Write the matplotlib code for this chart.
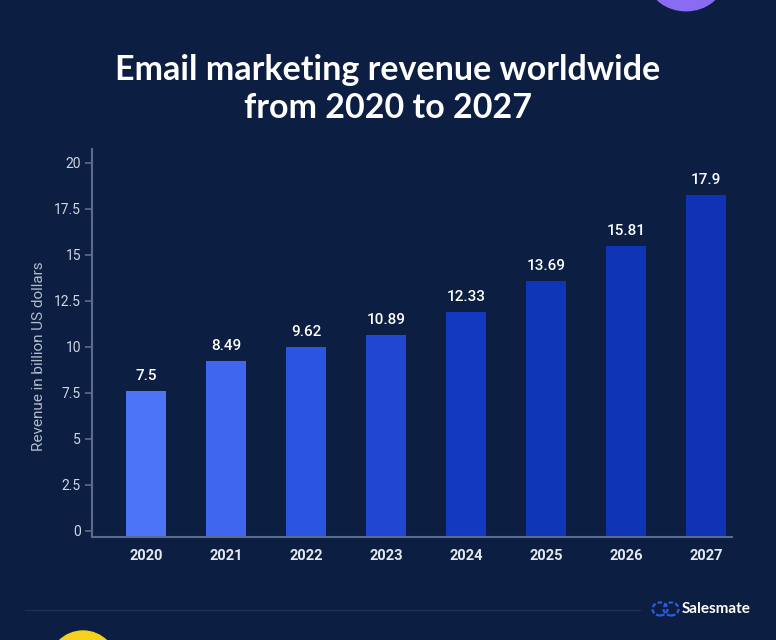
import matplotlib
matplotlib.use("Agg")
import matplotlib.pyplot as plt
from matplotlib.patches import Circle, Ellipse

years = ["2020", "2021", "2022", "2023", "2024", "2025", "2026", "2027"]
bar_heights = [7.59, 9.22, 9.98, 10.64, 11.88, 13.57, 15.47, 18.24]
value_labels = ["7.5", "8.49", "9.62", "10.89", "12.33", "13.69", "15.81", "17.9"]
yticks = [0, 2.5, 5, 7.5, 10, 12.5, 15, 17.5, 20]
ytick_labels = ["0", "2.5", "5", "7.5", "10", "12.5", "15", "17.5", "20"]
bar_colors = ["#4b75f6", "#3e66ee", "#2b55e0", "#2046d2", "#1439c1", "#1036b8", "#0f34b5", "#0f33b4"]

BG = "#0c1e42"
fig = plt.figure(figsize=(7.76, 6.4), dpi=100, facecolor=BG)
ax = fig.add_axes([92/776, (640-537)/640, (732-92)/776, (537-149)/640])
ax.set_facecolor(BG)

ymin, ymax = -0.34, 20.74
x = list(range(len(years)))
ax.bar(x, [h - ymin for h in bar_heights], bottom=ymin, width=0.5, color=bar_colors, zorder=2)
for xi, h, lab in zip(x, bar_heights, value_labels):
    ax.text(xi, h + 0.42, lab, ha="center", va="bottom", color="white",
            fontsize=11, family="Roboto", fontweight="medium")

ax.set_xlim(-0.675, 7.325)
ax.set_ylim(ymin, ymax)
ax.set_yticks(yticks)
ax.set_yticklabels(ytick_labels)
ax.set_xticks(x)
ax.set_xticklabels(years)
for s in ["top", "right"]:
    ax.spines[s].set_visible(False)
for s in ["left", "bottom"]:
    ax.spines[s].set_color("#5b6b8c")
    ax.spines[s].set_linewidth(1.5)
ax.tick_params(axis="y", colors="#5b6b8c", length=5, width=1.2, pad=3,
               labelcolor="#d0d6e2", labelsize=10)
ax.tick_params(axis="x", length=0, pad=9, labelcolor="#e4e8f0", labelsize=10.5)
for t in ax.get_yticklabels():
    t.set_family("Roboto")
for t in ax.get_xticklabels():
    t.set_family("Roboto")
    t.set_fontweight("bold")

fig.text(39/776, 1 - 356/640, "Revenue in billion US dollars", rotation=90,
         ha="center", va="center", color="#b4bccc", fontsize=11, family="Roboto")

fig.text(0.5, 1 - 89/640, "Email marketing revenue worldwide\nfrom 2020 to 2027",
         ha="center", va="center", color="white", fontsize=24.5, family="Lato",
         fontweight="bold", linespacing=1.2)

# decorations
fig.add_artist(Circle((686/776, 1 + 20/640), 0.048, transform=fig.transFigure,
                      color="#8a6cf2", clip_on=False))
fig.add_artist(Ellipse((83/776, 1 - 665/640), 68/776, 68/640, transform=fig.transFigure,
                       color="#f6d21c", clip_on=False))
fig.add_artist(plt.Line2D([25/776, 640/776], [1 - 610/640, 1 - 610/640],
                          transform=fig.transFigure, color="#1f3158", lw=1))
fig.add_artist(Ellipse((660/776, 1 - 609/640), 15/776, 13/640, transform=fig.transFigure,
                       fill=False, ec="#2f5be0", lw=1.6, ls=(0, (2, 1))))
fig.add_artist(Ellipse((671/776, 1 - 609/640), 15/776, 13/640, transform=fig.transFigure,
                       fill=False, ec="#2f5be0", lw=1.6, ls=(0, (2, 1))))
fig.text(682/776, 1 - 609/640, "Salesmate", ha="left", va="center", color="white",
         fontsize=11, family="Lato", fontweight="bold")

fig.savefig("out.png", dpi=100, facecolor=BG)
